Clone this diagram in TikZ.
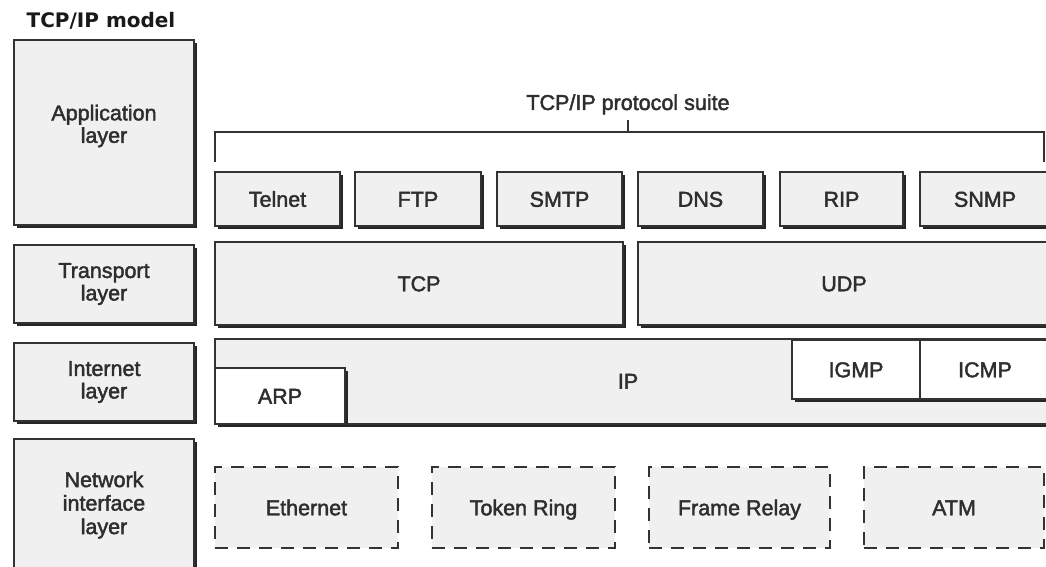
\documentclass[tikz,border=0pt]{standalone}
\usepackage{fontspec}
\setmainfont{Liberation Sans}[FakeBold=2]
\newfontfamily\titlefont{DejaVu Sans}
\usetikzlibrary{shadows}
\definecolor{boxfill}{HTML}{F0F0F0}
\definecolor{edge}{HTML}{333333}
\definecolor{ink}{HTML}{2E2E2E}
\tikzset{
  base/.style={draw=edge, line width=1.2pt, inner sep=0pt, text=ink,
    font=\fontsize{21.5}{22.5}\selectfont, align=center},
  oneline/.style={text height=15.5pt, text depth=0pt},
  shade box/.style={drop shadow={shadow xshift=3.3pt, shadow yshift=-3.3pt,
    fill=black!85, opacity=1}},
  layerbox/.style={base, fill=boxfill, shade box},
  protobox/.style={base, oneline, fill=boxfill, shade box},
  whitebox/.style={base, oneline, fill=white, shade box},
  linkbox/.style={base, oneline, fill=boxfill, line width=1.8pt,
    dash pattern=on 13pt off 9pt},
  plain/.style={base, draw=none},
  bracket/.style={draw=edge, line width=1.5pt},
}
\begin{document}
\begin{tikzpicture}[x=1pt, y=-1pt]
  \clip (0,0) rectangle (1046,567);
  \fill[white] (0,0) rectangle (1046,567);

  % model column
  \node[font=\titlefont\bfseries\fontsize{20}{22}\selectfont, text=black!90, anchor=base]
    (title) at (101,28) {TCP/IP model};
  \node[layerbox, minimum width=180pt, minimum height=185pt] (app) at (104,132.5) {};
  \node[plain] (applabel) at (104,126) {Application\\layer};
  \node[layerbox, minimum width=180pt, minimum height=78pt] (trans) at (104,284)
    {Transport\\layer};
  \node[layerbox, minimum width=180pt, minimum height=78pt] (inet) at (104,382)
    {Internet\\layer};
  \node[layerbox, minimum width=180pt, minimum height=136pt] (netif) at (104,507) {};
  \node[plain, font=\fontsize{21.5}{23.5}\selectfont] (netlabel) at (104,505)
    {Network\\interface\\layer};

  % protocol suite bracket
  \node[plain, anchor=base] (suite) at (628,110) {TCP/IP protocol suite};
  \coordinate (brL) at (215,162);
  \coordinate (brR) at (1044,162);
  \coordinate (brT) at (628,132);
  \coordinate (tick) at (628,120);
  \draw[bracket] (brL) -- ++(0,-30) -| (brR);
  \draw[bracket] (brT) -- (tick);

  % application protocols
  \node[protobox, minimum width=125pt, minimum height=54pt] (telnet) at (277.5,199) {Telnet};
  \node[protobox, minimum width=126pt, minimum height=54pt] (ftp) at (418,199) {FTP};
  \node[protobox, minimum width=125pt, minimum height=54pt] (smtp) at (559.5,199) {SMTP};
  \node[protobox, minimum width=125pt, minimum height=54pt] (dns) at (700.5,199) {DNS};
  \node[protobox, minimum width=123pt, minimum height=54pt] (rip) at (841.5,199) {RIP};
  \node[protobox, minimum width=130pt, minimum height=54pt] (snmp) at (985,199) {SNMP};

  % transport protocols
  \node[protobox, minimum width=408pt, minimum height=83pt] (tcp) at (419,283.5) {TCP};
  \node[protobox, minimum width=412pt, minimum height=83pt] (udp) at (844,283.5) {UDP};

  % internet protocols
  \node[protobox, minimum width=835pt, minimum height=85pt] (ip) at (632.5,381.5) {};
  \node[plain, oneline] (iplabel) at (628,381) {IP};
  \node[whitebox, minimum width=130pt, minimum height=56pt] (arp) at (280,396) {ARP};
  \node[whitebox, minimum width=128pt, minimum height=59pt] (igmp) at (856,369.5) {IGMP};
  \node[whitebox, minimum width=130pt, minimum height=59pt] (icmp) at (985,369.5) {ICMP};

  % network interface technologies
  \node[linkbox, minimum width=183pt, minimum height=81pt] (eth) at (306.5,507.5) {Ethernet};
  \node[linkbox, minimum width=183pt, minimum height=81pt] (token) at (523.5,507.5) {Token Ring};
  \node[linkbox, minimum width=181pt, minimum height=81pt] (frame) at (739.5,507.5) {Frame Relay};
  \node[linkbox, minimum width=180pt, minimum height=81pt] (atm) at (954,507.5) {ATM};
\end{tikzpicture}
\end{document}
